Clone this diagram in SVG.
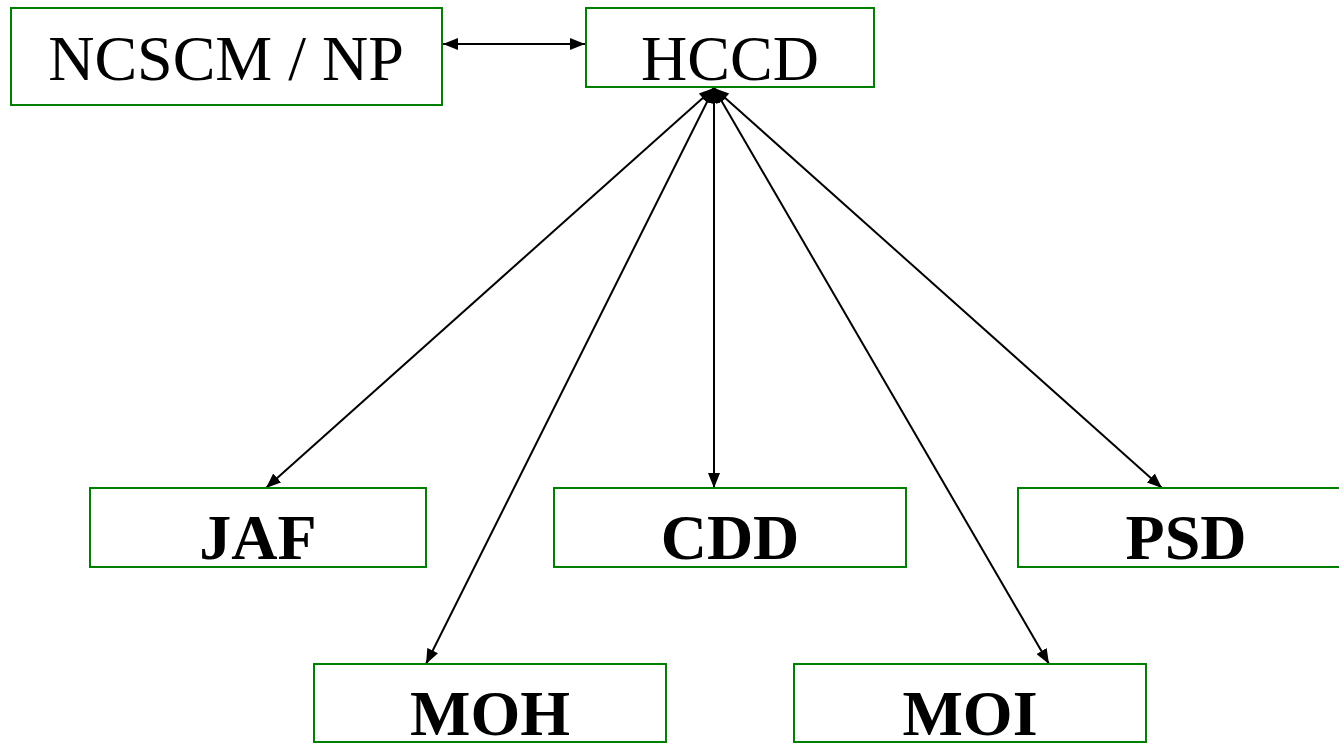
<svg xmlns="http://www.w3.org/2000/svg" width="1339" height="743" viewBox="0 0 1339 743">
<style>
.box{fill:#fff;stroke:#008000;stroke-width:2}
.t{font-family:"Liberation Serif","Times New Roman",serif;font-size:64px;fill:#000;text-anchor:middle}
.b{font-weight:bold}
.c{stroke:#000;stroke-width:2;fill:none;marker-end:url(#ah);marker-start:url(#as)}
</style>
<defs>
<marker id="ah" markerUnits="userSpaceOnUse" markerWidth="16" markerHeight="12" refX="15" refY="6" orient="auto"><path d="M0,0 L15,6 L0,12 z" fill="#000"/></marker>
<marker id="as" markerUnits="userSpaceOnUse" markerWidth="16" markerHeight="12" refX="0" refY="6" orient="auto"><path d="M15,0 L0,6 L15,12 z" fill="#000"/></marker>
</defs>
<rect width="1339" height="743" fill="#fff"/>
<g id="connectors">
<line class="c" x1="443" y1="44" x2="585" y2="44"/>
<line class="c" x1="714" y1="88" x2="266" y2="488"/>
<line class="c" x1="714" y1="88" x2="426" y2="664"/>
<line class="c" x1="714" y1="88" x2="714" y2="488"/>
<line class="c" x1="714" y1="88" x2="1049" y2="664"/>
<line class="c" x1="714" y1="88" x2="1162" y2="488"/>
</g>
<g id="ncscm"><rect class="box" x="11" y="8" width="431" height="97"/><text class="t" x="226" y="80">NCSCM / NP</text></g>
<g id="hccd"><rect class="box" x="586" y="8" width="288" height="79"/><text class="t" x="730" y="80">HCCD</text></g>
<g id="jaf"><rect class="box" x="90" y="488" width="336" height="79"/><text class="t b" x="258" y="559">JAF</text></g>
<g id="cdd"><rect class="box" x="554" y="488" width="352" height="79"/><text class="t b" x="730" y="559">CDD</text></g>
<g id="psd"><rect class="box" x="1018" y="488" width="336" height="79"/><text class="t b" x="1186" y="559">PSD</text></g>
<g id="moh"><rect class="box" x="314" y="664" width="352" height="78"/><text class="t b" x="490" y="735">MOH</text></g>
<g id="moi"><rect class="box" x="794" y="664" width="352" height="78"/><text class="t b" x="970" y="735">MOI</text></g>
</svg>
